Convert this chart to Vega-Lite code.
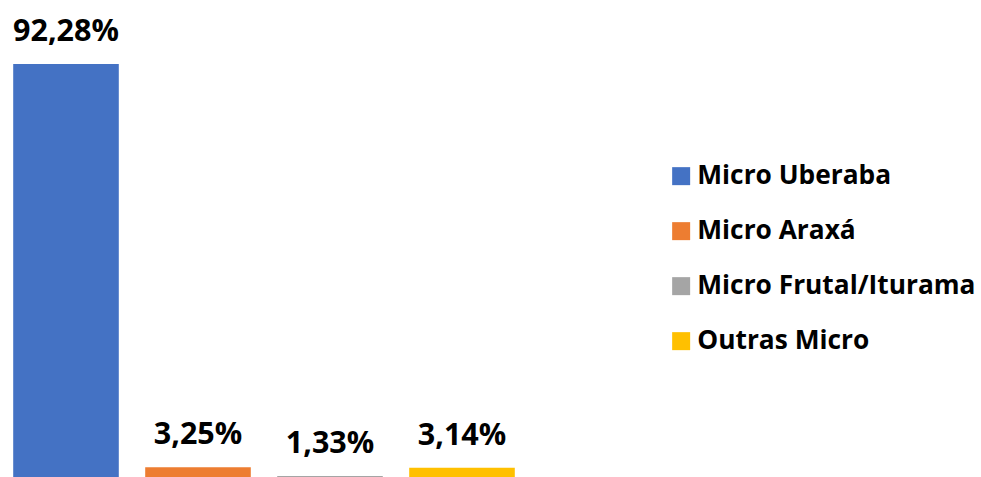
{
  "$schema": "https://vega.github.io/schema/vega-lite/v6.json",
  "autosize": {"type": "none"},
  "padding": {"left": 0, "top": 0, "right": 453, "bottom": 0},
  "width": 528,
  "height": 482,
  "background": "white",
  "data": {"values": [
    {"regiao": "Micro Uberaba", "valor": 92.28, "rotulo": "92,28%"},
    {"regiao": "Micro Araxá", "valor": 3.25, "rotulo": "3,25%"},
    {"regiao": "Micro Frutal/Iturama", "valor": 1.33, "rotulo": "1,33%"},
    {"regiao": "Outras Micro", "valor": 3.14, "rotulo": "3,14%"}
  ]},
  "encoding": {
    "x": {"field": "regiao", "type": "nominal", "sort": null,
          "scale": {"paddingInner": 0.2, "paddingOuter": 0.1}, "axis": null},
    "y": {"field": "valor", "type": "quantitative",
          "scale": {"domain": [0, 106.41], "nice": false, "zero": true}, "axis": null}
  },
  "layer": [
    {
      "mark": {"type": "bar"},
      "encoding": {
        "color": {"field": "regiao", "type": "nominal", "sort": null,
          "scale": {"domain": ["Micro Uberaba", "Micro Araxá", "Micro Frutal/Iturama", "Outras Micro"],
                    "range": ["#4472C4", "#ED7D31", "#A5A5A5", "#FFC000"]},
          "legend": {
            "title": null, "orient": "none", "legendX": 668, "legendY": 163,
            "symbolType": "square", "symbolSize": 324, "symbolStrokeWidth": 0,
            "labelFont": "Open Sans", "labelFontWeight": "bold", "labelFontSize": 26.3,
            "labelColor": "#000000", "labelOffset": 3, "rowPadding": 28, "labelLimit": 400
          }}
      }
    },
    {
      "mark": {"type": "text", "font": "Open Sans", "fontWeight": "bold", "fontSize": 30.5,
               "color": "#000000", "baseline": "alphabetic", "dy": -23},
      "encoding": {"text": {"field": "rotulo"}}
    }
  ],
  "config": {"view": {"stroke": null}}
}
